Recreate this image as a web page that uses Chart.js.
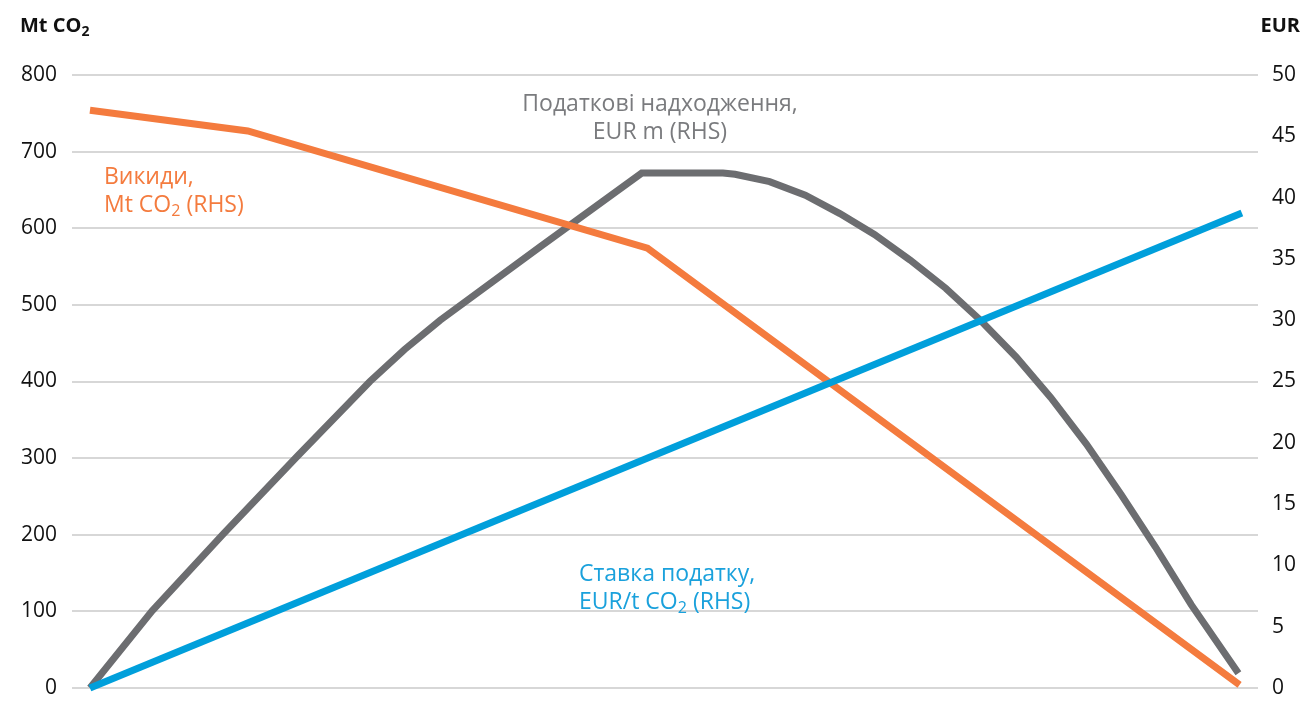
<!DOCTYPE html>
<html lang="uk">
<head>
<meta charset="utf-8">
<title>Податок на викиди CO₂</title>
<script src="https://cdn.jsdelivr.net/npm/chart.js@4"></script>
<style>
  html, body { margin: 0; padding: 0; background: #ffffff; }
  #wrap { position: relative; width: 1307px; height: 702px; font-family: "Open Sans", "Noto Sans", sans-serif; }
  #chart { position: absolute; left: 0; top: 0; }
  .lbl { position: absolute; font-size: 23px; line-height: 28px; white-space: nowrap; }
  .ttl { position: absolute; font-size: 20px; font-weight: 700; color: #111; white-space: nowrap; }
  sub { font-size: 0.7em; vertical-align: -0.25em; line-height: 0; }
</style>
</head>
<body>
<div id="wrap">
  <canvas id="chart" width="1307" height="702"></canvas>
  <div class="ttl" style="left:20px; top:11px;">Mt CO<sub>2</sub></div>
  <div class="ttl" style="right:7px; top:11px;">EUR</div>
  <div class="lbl" style="left:460px; width:400px; top:88px; text-align:center; color:#7a7b7e;">Податкові надходження,<br>EUR m (RHS)</div>
  <div class="lbl" style="left:104px; top:161px; color:#f47b3e;">Викиди,<br>Mt CO<sub>2</sub> (RHS)</div>
  <div class="lbl" style="left:579px; top:558px; color:#1aa1dc;">Ставка податку,<br>EUR/t CO<sub>2</sub> (RHS)</div>
</div>
<script>
// Emissions, Mt CO2 (left scale)
const emissionsX  = [0, 13.7, 48.4, 99.8];
const emissionsMt = [754, 727, 574, 4];

// Tax revenue, EUR m (right scale)
const revenueX    = [0, 5.4, 11.6, 18.0, 24.3, 27.3, 30.4, 39.1, 47.9, 54.95,
                     56.0, 59.0, 62.1, 65.1, 68.1, 71.2, 74.3, 77.3, 80.4, 83.4,
                     86.5, 89.5, 92.5, 95.6, 99.7];
const revenueEURm = [0, 6.3, 12.6, 18.9, 25.0, 27.6, 30.0, 36.0, 42.0, 42.0,
                     41.9, 41.3, 40.2, 38.7, 37.0, 34.9, 32.6, 30.0, 27.0, 23.7,
                     19.9, 15.8, 11.5, 6.8, 1.2];

// Tax rate, EUR/t CO2 (right scale)
const rateX   = [0, 100];
const rateEUR = [0, 38.75];

// Axis tick values
const leftTicks  = [0, 100, 200, 300, 400, 500, 600, 700, 800];
const rightTicks = [0, 5, 10, 15, 20, 25, 30, 35, 40, 45, 50];

const pts = (xs, ys) => xs.map((x, i) => ({ x: x, y: ys[i] }));

const lineStyle = {
  borderWidth: 7,
  pointRadius: 0,
  pointHoverRadius: 0,
  tension: 0,
  fill: false,
  clip: false,
  borderCapStyle: 'butt',
  borderJoinStyle: 'miter'
};

// keep the plot area fixed: tick labels may overflow into the margins
const fitY = w => s => { s.width = w; s.paddingTop = 0; s.paddingBottom = 0; };

new Chart(document.getElementById('chart'), {
  type: 'line',
  data: {
    datasets: [
      Object.assign({ label: 'Ставка податку, EUR/t CO2', data: pts(rateX, rateEUR), borderColor: '#009fdb', yAxisID: 'yR' }, lineStyle),
      Object.assign({ label: 'Викиди, Mt CO2', data: pts(emissionsX, emissionsMt), borderColor: '#f47b3e', yAxisID: 'yL' }, lineStyle),
      Object.assign({ label: 'Податкові надходження, EUR m', data: pts(revenueX, revenueEURm), borderColor: '#6c6d70', yAxisID: 'yR' }, lineStyle)
    ]
  },
  options: {
    responsive: false,
    animation: false,
    events: [],
    layout: { padding: { top: 75, bottom: 14, left: 0, right: 0 } },
    plugins: { legend: { display: false }, tooltip: { enabled: false } },
    scales: {
      x: {
        type: 'linear',
        min: -1.56,
        max: 101.4,
        display: false
      },
      yL: {
        position: 'left',
        min: 0,
        max: 800,
        afterBuildTicks: s => { s.ticks = leftTicks.map(v => ({ value: v })); },
        afterFit: fitY(72),
        border: { display: false },
        grid: { color: '#d7d7d7', lineWidth: 2, drawTicks: false },
        ticks: { padding: 15, color: '#111', font: { family: '"Open Sans", sans-serif', size: 21 } }
      },
      yR: {
        position: 'right',
        min: 0,
        max: 50,
        afterBuildTicks: s => { s.ticks = rightTicks.map(v => ({ value: v })); },
        afterFit: fitY(49),
        border: { display: false },
        grid: { display: false, drawTicks: false },
        ticks: { padding: 14, color: '#111', font: { family: '"Open Sans", sans-serif', size: 21 } }
      }
    }
  }
});
</script>
</body>
</html>
